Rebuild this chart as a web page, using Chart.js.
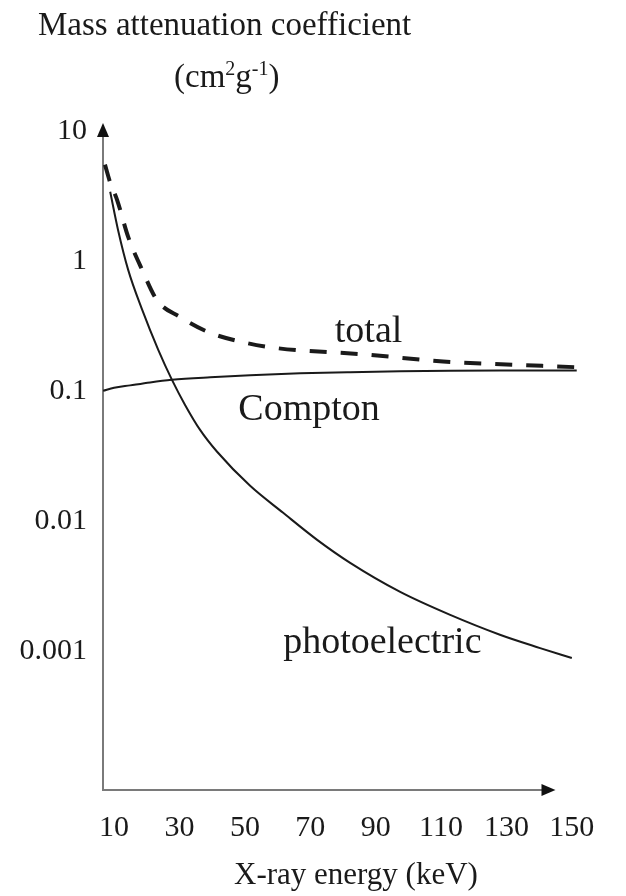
<!DOCTYPE html>
<html>
<head>
<meta charset="utf-8">
<script src="https://cdn.jsdelivr.net/npm/chart.js@4/dist/chart.umd.min.js"></script>
<style>
html, body { margin: 0; padding: 0; background: #fff; }
#attChart { display: block; }
</style>
</head>
<body>
<canvas id="attChart" width="626" height="896"></canvas>
<script>
// values (energy in keV, coefficient in cm2/g)
var photoKeV = [8.8, 11.2, 14.3, 18.6, 23.5, 27.7, 31.7, 36.3, 41.5, 51.6, 61.7, 72.1, 82.2, 97.5, 112.8, 128, 140.3, 150];
var photoVal = [3.4, 1.73, 0.853, 0.42, 0.207, 0.1216, 0.078, 0.0501, 0.034, 0.0186, 0.01153, 0.00714, 0.00475, 0.00284, 0.00189, 0.00133, 0.00105, 0.00088];
var comptonKeV = [6.64, 10, 14.9, 21, 27.7, 39.4, 51.6, 66.9, 82.2, 97.5, 112.8, 128, 151.5];
var comptonVal = [0.1, 0.1055, 0.1102, 0.1162, 0.1216, 0.1271, 0.1316, 0.1364, 0.1393, 0.1413, 0.1426, 0.1432, 0.1435];
var totalKeV = [7.2, 8.8, 10.9, 14.3, 18.6, 23.1, 30.2, 38.7, 49, 59.2, 87.4, 110.6, 118.9, 151.5];
var totalVal = [5.5, 4.0, 2.95, 1.53, 0.85, 0.50, 0.37, 0.284, 0.238, 0.214, 0.19, 0.168, 0.164, 0.152];
var xTicks = [10, 30, 50, 70, 90, 110, 130, 150];
var yTicks = [0.001, 0.01, 0.1, 1, 10];

var serif = "'Liberation Serif', 'Times New Roman', serif";
var ink = '#1a1a1a';

function toPoints(xs, ys) {
    var pts = [];
    for (var i = 0; i < xs.length; i++) pts.push({ x: xs[i], y: ys[i] });
    return pts;
}

// axes with arrows + all the free text
var decor = {
    id: 'decor',
    beforeDatasetsDraw: function(chart) {
        var ctx = chart.ctx;
        var a = chart.chartArea;
        var xs = chart.scales.x;
        var xEnd = xs.getPixelForValue(145);
        ctx.save();
        ctx.strokeStyle = '#7a7a7a';
        ctx.lineWidth = 2;
        ctx.beginPath();
        ctx.moveTo(a.left, a.top + 8);
        ctx.lineTo(a.left, a.bottom);
        ctx.lineTo(xEnd - 8, a.bottom);
        ctx.stroke();
        ctx.fillStyle = '#111';
        // y arrow
        ctx.beginPath();
        ctx.moveTo(a.left, a.top);
        ctx.lineTo(a.left - 6, a.top + 14);
        ctx.lineTo(a.left + 6, a.top + 14);
        ctx.closePath();
        ctx.fill();
        // x arrow
        ctx.beginPath();
        ctx.moveTo(xEnd, a.bottom);
        ctx.lineTo(xEnd - 14, a.bottom - 6);
        ctx.lineTo(xEnd - 14, a.bottom + 6);
        ctx.closePath();
        ctx.fill();
        ctx.restore();
    },
    afterDraw: function(chart) {
        var ctx = chart.ctx;
        var xs = chart.scales.x, ys = chart.scales.y;
        ctx.save();
        ctx.fillStyle = ink;
        ctx.textBaseline = 'alphabetic';
        ctx.textAlign = 'left';
        // y title, two lines
        ctx.font = '33px ' + serif;
        ctx.fillText('Mass attenuation coefficient', 38, 35);
        var x = 174, base = 87;
        ctx.fillText('(cm', x, base); x += ctx.measureText('(cm').width;
        ctx.font = '20px ' + serif;
        ctx.fillText('2', x, base - 12); x += ctx.measureText('2').width;
        ctx.font = '33px ' + serif;
        ctx.fillText('g', x, base); x += ctx.measureText('g').width;
        ctx.font = '20px ' + serif;
        ctx.fillText('-1', x, base - 12); x += ctx.measureText('-1').width;
        ctx.font = '33px ' + serif;
        ctx.fillText(')', x, base);
        // curve labels
        ctx.font = '38px ' + serif;
        ctx.fillText('total', xs.getPixelForValue(77.5), ys.getPixelForValue(0.238));
        ctx.fillText('Compton', xs.getPixelForValue(48), ys.getPixelForValue(0.06));
        ctx.fillText('photoelectric', xs.getPixelForValue(61.7), ys.getPixelForValue(0.00097));
        // x title
        ctx.font = '31px ' + serif;
        ctx.fillText('X-ray energy (keV)', 234, 884);
        ctx.restore();
    }
};

var ctx = document.getElementById('attChart');
var myChart = new Chart(ctx, {
    type: 'line',
    data: {
        datasets: [{
            label: 'total',
            data: toPoints(totalKeV, totalVal),
            borderColor: ink,
            borderWidth: 4,
            borderDash: [17, 14],
            pointRadius: 0,
            fill: false,
            cubicInterpolationMode: 'monotone'
        }, {
            label: 'Compton',
            data: toPoints(comptonKeV, comptonVal),
            borderColor: ink,
            borderWidth: 2,
            pointRadius: 0,
            fill: false,
            cubicInterpolationMode: 'monotone'
        }, {
            label: 'photoelectric',
            data: toPoints(photoKeV, photoVal),
            borderColor: ink,
            borderWidth: 2,
            pointRadius: 0,
            fill: false,
            cubicInterpolationMode: 'monotone'
        }]
    },
    options: {
        responsive: false,
        animation: false,
        layout: { padding: { top: 123, right: 46, bottom: 0, left: 0 } },
        plugins: {
            legend: { display: false },
            tooltip: { enabled: false }
        },
        scales: {
            x: {
                type: 'linear',
                min: 6.6,
                max: 152.5,
                grid: { display: false, drawTicks: false },
                border: { display: false },
                afterFit: function(scale) { scale.height = 106; },
                afterBuildTicks: function(scale) {
                    scale.ticks = xTicks.map(function(v) { return { value: v }; });
                },
                ticks: {
                    autoSkip: false,
                    maxRotation: 0,
                    padding: 20,
                    color: ink,
                    font: { family: serif, size: 30 },
                    callback: function(v) { return String(v); }
                }
            },
            y: {
                type: 'logarithmic',
                min: 0.000085,
                max: 11.5,
                grid: { display: false, drawTicks: false },
                border: { display: false },
                afterFit: function(scale) { scale.width = 103; },
                afterBuildTicks: function(scale) {
                    scale.ticks = yTicks.map(function(v) { return { value: v }; });
                },
                ticks: {
                    autoSkip: false,
                    padding: 16,
                    color: ink,
                    font: { family: serif, size: 30 },
                    callback: function(v) { return String(v); }
                }
            }
        }
    },
    plugins: [decor]
});
</script>
</body>
</html>
